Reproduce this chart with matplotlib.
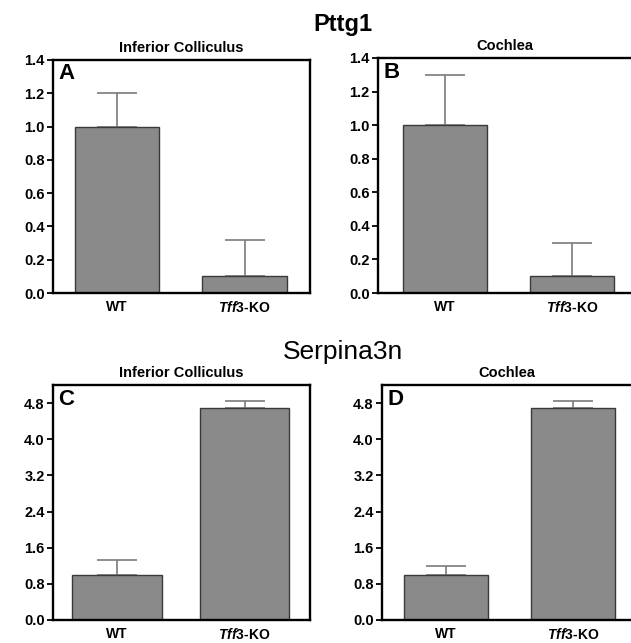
import matplotlib
matplotlib.use("Agg")
import matplotlib.pyplot as plt
import numpy as np

plt.rcParams["font.family"] = ["Liberation Sans", "DejaVu Sans"]
plt.rcParams["mathtext.fontset"] = "custom"
plt.rcParams["mathtext.it"] = "Liberation Sans:italic:bold"
plt.rcParams["mathtext.rm"] = "Liberation Sans:bold"

# === Daten ===
gruppen = ["WT", r"$\mathit{Tff3}$-KO"]

pttg1_ic = [1.0, 0.10]
pttg1_ic_err = [0.20, 0.22]
pttg1_co = [1.0, 0.10]
pttg1_co_err = [0.30, 0.20]

serp_ic = [1.0, 4.69]
serp_ic_err = [0.32, 0.15]
serp_co = [1.0, 4.69]
serp_co_err = [0.20, 0.15]

panels = [
    # rect, werte, fehler, titel, buchstabe, ymax, yticks, xlim, breite
    ([0.084, 0.5443, 0.407, 0.3624], pttg1_ic, pttg1_ic_err, "Inferior Colliculus", "A",
     1.4, np.arange(0, 1.41, 0.2), (-0.5, 1.51), 0.66),
    ([0.599, 0.5443, 0.403, 0.3655], pttg1_co, pttg1_co_err, "Cochlea", "B",
     1.4, np.arange(0, 1.41, 0.2), (-0.525, 1.47), 0.66),
    ([0.084, 0.0358, 0.407, 0.3654], serp_ic, serp_ic_err, "Inferior Colliculus", "C",
     5.2, np.arange(0, 4.81, 0.8), (-0.5, 1.51), 0.7),
    ([0.6054, 0.0358, 0.397, 0.3654], serp_co, serp_co_err, "Cochlea", "D",
     5.2, np.arange(0, 4.81, 0.8), (-0.5, 1.47), 0.66),
]

fig = plt.figure(figsize=(6.31, 6.43), dpi=100)

for rect, werte, fehler, titel, buchstabe, ymax, yticks, xlim, breite in panels:
    ax = fig.add_axes(rect)
    x = np.arange(len(werte))
    ax.bar(x, werte, width=breite, color="#8a8a8a", edgecolor="#3a3a3a", linewidth=1.0, zorder=2)
    ax.errorbar(x, werte, yerr=[np.zeros(len(fehler)), fehler], fmt="none",
                ecolor="#7a7a7a", elinewidth=1.2, capsize=14.5, capthick=1.2, zorder=1)
    ax.set_xlim(*xlim)
    ax.set_ylim(0, ymax)
    ax.set_yticks(yticks)
    ax.set_yticklabels([f"{v:.1f}" for v in yticks], fontweight="bold", fontsize=10.5)
    ax.set_xticks(x)
    ax.set_xticklabels(gruppen, fontweight="bold", fontsize=10)
    ax.tick_params(axis="y", direction="out", length=4, width=1.3, pad=2)
    ax.tick_params(axis="x", length=0, pad=5)
    for s in ax.spines.values():
        s.set_linewidth(1.7)
    ax.set_title(titel, fontweight="bold", fontsize=10.5, pad=6)
    ax.text(0.02, 0.985, buchstabe, transform=ax.transAxes, fontsize=16,
            fontweight="bold", ha="left", va="top")

fig.text(0.544, 0.962, "Pttg1", fontsize=17, fontweight="bold", ha="center", va="center")
fig.text(0.544, 0.452, "Serpina3n", fontsize=19, ha="center", va="center")

plt.savefig("out.png", dpi=100)
